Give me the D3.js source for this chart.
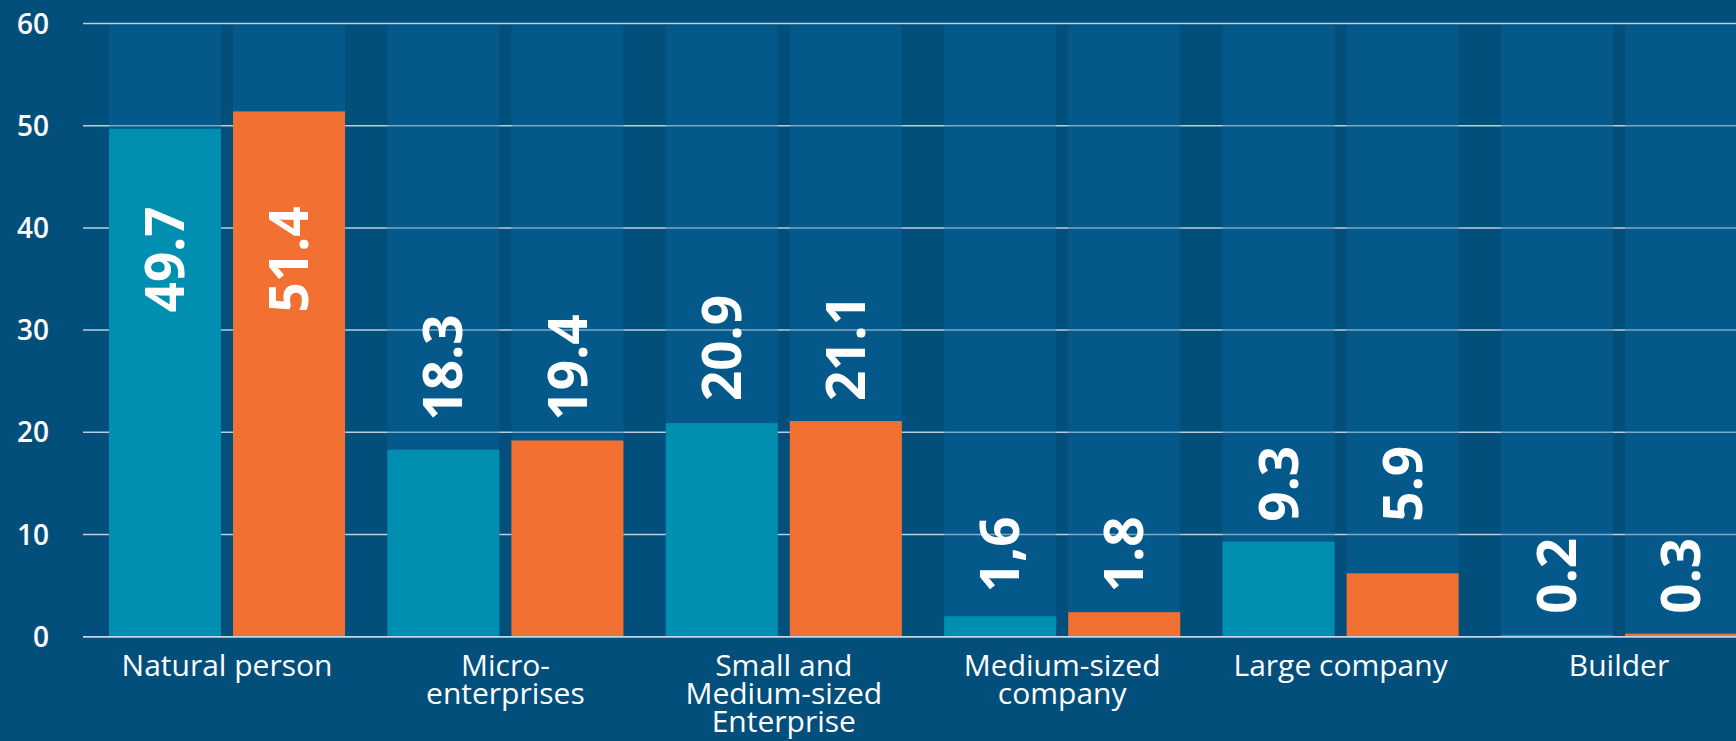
<!DOCTYPE html>
<meta charset="utf-8">
<style>

body {
  margin: 0;
  background: #034f7b;
}

svg {
  display: block;
  font-family: "Open Sans", sans-serif;
}

.grid line {
  stroke: #b7cfdf;
  stroke-width: 1.5;
}

.axis text {
  font-size: 28px;
  font-weight: 600;
  fill: #fff;
}

.axis.x text {
  font-size: 30px;
  font-weight: 500;
}

.value {
  font-size: 53px;
  font-weight: 700;
  fill: #fff;
}

</style>
<svg width="1736" height="741"></svg>
<script src="https://cdn.jsdelivr.net/npm/d3@7"></script>
<script>

// categories, with line breaks as in the picture
var categories = [
  "Natural person",
  "Micro-\nenterprises",
  "Small and\nMedium-sized\nEnterprise",
  "Medium-sized\ncompany",
  "Large company",
  "Builder"
];

var seriesNames = ["teal", "orange"];

// bar heights
var tealValues   = [49.7, 18.3, 20.9, 2.0, 9.3, 0.2],
    orangeValues = [51.4, 19.2, 21.1, 2.4, 6.2, 0.3];

// value labels as printed
var tealLabels   = ["49.7", "18.3", "20.9", "1,6", "9.3", "0.2"],
    orangeLabels = ["51.4", "19.4", "21.1", "1.8", "5.9", "0.3"];

var yTicks = [0, 10, 20, 30, 40, 50, 60];

var colors = ["#008fb0", "#f37033"];

var svg = d3.select("svg"),
    width = +svg.attr("width"),
    height = +svg.attr("height");

var plotLeft = 83,
    plotTop = 23.5,
    plotBottom = 636.7;

var y = d3.scaleLinear()
    .domain([0, 60])
    .range([plotBottom, plotTop]);

var x0 = d3.scaleBand()
    .domain(d3.range(categories.length))
    .range([87.8, 1758.2])
    .paddingInner(0.152)
    .paddingOuter(0.076);

var x1 = d3.scaleBand()
    .domain(d3.range(seriesNames.length))
    .range([0, x0.bandwidth()])
    .paddingInner(0.097);

var groups = categories.map(function(c, i) {
  return {
    name: c,
    max: Math.max(tealValues[i], orangeValues[i]),
    bars: [
      {s: 0, value: tealValues[i], label: tealLabels[i]},
      {s: 1, value: orangeValues[i], label: orangeLabels[i]}
    ]
  };
});

// gridlines
svg.append("g")
    .attr("class", "grid")
  .selectAll("line")
    .data(yTicks)
  .enter().append("line")
    .attr("x1", plotLeft)
    .attr("x2", width)
    .attr("y1", function(d) { return y(d); })
    .attr("y2", function(d) { return y(d); });

// y tick labels
svg.append("g")
    .attr("class", "axis")
  .selectAll("text")
    .data(yTicks)
  .enter().append("text")
    .attr("x", 49)
    .attr("y", function(d) { return y(d); })
    .attr("dy", "0.36em")
    .attr("text-anchor", "end")
    .text(function(d) { return d; });

var group = svg.append("g").selectAll(".group")
    .data(groups)
  .enter().append("g")
    .attr("class", "group")
    .attr("transform", function(d, i) { return "translate(" + x0(i) + ",0)"; });

// column backgrounds, full height
group.selectAll(".col")
    .data(function(d) { return d.bars; })
  .enter().append("rect")
    .attr("class", "col")
    .attr("x", function(d) { return x1(d.s); })
    .attr("y", y(60) + 1)
    .attr("width", x1.bandwidth())
    .attr("height", y(0) - y(60) - 1)
    .attr("fill", "#0a6aa6")
    .attr("fill-opacity", 0.36);

group.selectAll(".bar")
    .data(function(d) { return d.bars; })
  .enter().append("rect")
    .attr("class", "bar")
    .attr("x", function(d) { return x1(d.s); })
    .attr("y", function(d) { return y(d.value); })
    .attr("width", x1.bandwidth())
    .attr("height", function(d) { return y(0) - y(d.value); })
    .attr("fill", function(d) { return colors[d.s]; });

// value labels: above the taller bar of the group, or inside when no room
group.each(function(g) {
  var outside = y(g.max) - 20,
      fits = outside - 105 > plotTop;
  d3.select(this).selectAll(".value")
      .data(g.bars)
    .enter().append("text")
      .attr("class", "value")
      .attr("text-anchor", fits ? "start" : "end")
      .attr("dy", "0.36em")
      .attr("transform", function(d) {
        var ly = fits ? outside : y(g.max) + 95;
        return "translate(" + (x1(d.s) + x1.bandwidth() / 2) + "," + ly + ") rotate(-90)";
      })
      .text(function(d) { return d.label; });
});

// zero line on top
svg.append("line")
    .attr("x1", plotLeft)
    .attr("x2", width)
    .attr("y1", y(0))
    .attr("y2", y(0))
    .attr("stroke", "#c4d8e6")
    .attr("stroke-width", 1.5);

// category labels
var xLabel = svg.append("g")
    .attr("class", "axis x")
  .selectAll("text")
    .data(categories)
  .enter().append("text")
    .attr("x", function(d, i) { return x0(i) + x0.bandwidth() / 2; })
    .attr("y", y(0) + 39)
    .attr("text-anchor", "middle");

xLabel.selectAll("tspan")
    .data(function(d) { return d.split("\n"); })
  .enter().append("tspan")
    .attr("x", function() { return this.parentNode.getAttribute("x"); })
    .attr("dy", function(d, i) { return i ? 28.3 : 0; })
    .text(function(d) { return d; });

</script>
